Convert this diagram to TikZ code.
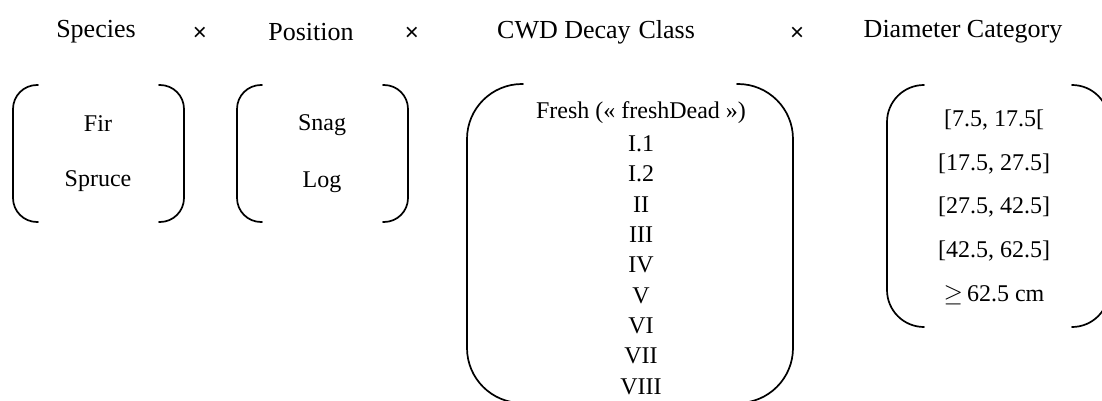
\documentclass[tikz,border=0pt]{standalone}
\usepackage{fontspec}
\setmainfont{Liberation Serif}
\newfontfamily\timessans{Liberation Sans}
\begin{document}
\begin{tikzpicture}[x=1pt,y=-1pt,
  hdr/.style={inner sep=0pt,font=\fontsize{26}{30}\selectfont},
  times/.style={inner sep=0pt,font=\timessans\fontsize{24}{28}\selectfont},
  itm/.style={inner sep=0pt,font=\fontsize{24}{28}\selectfont},
  brk/.style={line width=1.7pt,line cap=round}]
\clip (0,0) rectangle (1102,401);
\fill[white] (0,0) rectangle (1102,401);
% headers
\node[hdr] (h1) at (96,32) {Species};
\node[times] (x1) at (200,34) {×};
\node[hdr] (h2) at (311,32) {Position};
\node[times] (x2) at (412,34) {×};
\node[hdr] (h3) at (596,32) {CWD Decay\hspace{0.3em}Class};
\node[times] (x3) at (797,34) {×};
\node[hdr] (h4) at (963,32) {Diameter Category};
% bracket 1
\draw[brk,rounded corners=24pt] (38,85) -- (13,85) -- (13,222) -- (38,222);
\draw[brk,rounded corners=24pt] (159,85) -- (184,85) -- (184,222) -- (159,222);
\node[itm] (fir) at (98,124) {Fir};
\node[itm] (spruce) at (98,181) {Spruce};
% bracket 2
\draw[brk,rounded corners=24pt] (262,85) -- (237,85) -- (237,222) -- (262,222);
\draw[brk,rounded corners=24pt] (383,85) -- (408,85) -- (408,222) -- (383,222);
\node[itm] (snag) at (322,125) {Snag};
\node[itm] (log) at (322,182) {Log};
% bracket 3
\draw[brk,rounded corners=55pt] (523,84) -- (467,84) -- (467,403) -- (523,403);
\draw[brk,rounded corners=55pt] (737,84) -- (793,84) -- (793,403) -- (737,403);
\foreach \t [count=\i from 0] in {Fresh (« freshDead »),I.1,I.2,II,III,IV,V,VI,VII,VIII}{
  \node[itm] (dc\i) at (641,{113+30.4*\i}) {\t};
}
% bracket 4
\draw[brk,rounded corners=37pt] (924,85) -- (887,85) -- (887,327) -- (924,327);
\draw[brk,rounded corners=37pt] (1072,85) -- (1109,85) -- (1109,327) -- (1072,327);
\node[itm] (d1) at (994,120) {[7.5, 17.5[};
\node[itm] (d2) at (994,164) {[17.5, 27.5]};
\node[itm] (d3) at (994,207) {[27.5, 42.5]};
\node[itm] (d4) at (994,251) {[42.5, 62.5]};
\node[itm] (d5) at (994,295) {$\geq$\,62.5 cm};
\end{tikzpicture}
\end{document}
